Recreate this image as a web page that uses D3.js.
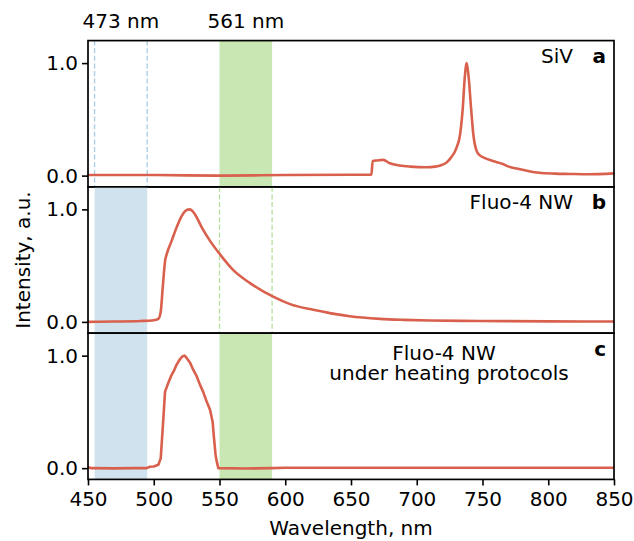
<!DOCTYPE html>
<html>
<head>
<meta charset="utf-8">
<script src="https://cdn.jsdelivr.net/npm/d3@7"></script>
<style>
  body { margin: 0; background: #fff; }
  text { font-family: "DejaVu Sans", sans-serif; }
</style>
</head>
<body>
<div class="canvas"></div>
<script>
// spectra: [wavelength nm, normalised intensity]
const sivSpectrum = [
  [450, 0.005], [500, 0.005], [550, 0.0], [600, 0.005], [665.5, 0.008],
  [666.5, 0.13], [670, 0.135], [674.5, 0.14], [679.5, 0.11], [687, 0.09],
  [695, 0.08], [707, 0.074], [714, 0.08], [719, 0.095], [723, 0.12],
  [726, 0.16], [730, 0.24], [733, 0.37], [735, 0.6], [736.5, 0.87],
  [738, 1.0], [739.5, 0.87], [741.3, 0.6], [743, 0.37], [745.5, 0.22],
  [748, 0.18], [751, 0.16], [758, 0.13], [765, 0.105], [770, 0.08],
  [775, 0.065], [783, 0.045], [793, 0.025], [805, 0.018], [816, 0.015],
  [830, 0.012], [850, 0.02]
];

const fluoSpectrum = [
  [450, 0.0], [470, 0.003], [490, 0.008], [500, 0.015], [503.5, 0.027],
  [505.3, 0.09], [506.8, 0.3], [508.6, 0.54], [509.8, 0.6], [513.6, 0.72],
  [517.4, 0.84], [521.2, 0.94], [524, 0.985], [527, 1.0], [529, 0.99],
  [531.4, 0.955], [536.5, 0.84], [542.8, 0.72], [550.4, 0.6], [560.5, 0.46],
  [573.2, 0.345], [590.4, 0.226], [603.6, 0.158], [621.3, 0.107], [634, 0.078],
  [649, 0.05], [672, 0.027], [690, 0.018], [710, 0.012], [748, 0.008],
  [800, 0.005], [850, 0.003]
];

const heatedSpectrum = [
  [450, 0.01], [452, 0.0], [470, -0.002], [485, 0.0], [494.6, 0.0],
  [497, 0.012], [500, 0.015], [503.5, 0.03], [505.3, 0.087], [506.8, 0.35],
  [508.6, 0.68], [511, 0.756], [513.6, 0.83], [515.5, 0.87], [517.4, 0.92],
  [520, 0.97], [522, 0.995], [523.5, 1.0], [525, 0.98], [527.5, 0.94],
  [530, 0.875], [532.7, 0.815], [535.2, 0.74], [537.5, 0.68], [540.3, 0.59],
  [542.8, 0.52], [544.8, 0.41], [545.8, 0.27], [547, 0.12], [547.9, 0.06],
  [549.1, 0.0], [570, -0.003], [590, 0.0], [600, 0.004], [650, 0.004],
  [700, 0.003], [750, 0.004], [800, 0.003], [850, 0.004]
];

const blueBand = [455, 495];   // 473 nm excitation
const greenBand = [550, 590];  // 561 nm excitation
const bandLabels = [["473 nm", 475], ["561 nm", 570]];
const xTicks = [450, 500, 550, 600, 650, 700, 750, 800, 850];
const yTicks = [0, 1];

const panels = [
  { data: sivSpectrum, blue: "dash", green: "fill", letter: "a", name: ["SiV"], curve: d3.curveMonotoneX },
  { data: fluoSpectrum, blue: "fill", green: "dash", letter: "b", name: ["Fluo-4 NW"], curve: d3.curveMonotoneX },
  { data: heatedSpectrum, blue: "fill", green: "fill", letter: "c", name: ["Fluo-4 NW", "under heating protocols"], curve: d3.curveLinear }
];

const width = 634, height = 541;
const plotLeft = 88, plotRight = 614, plotTop = 40.6, panelH = 146.27;

const svg = d3.select(".canvas").append("svg").attr("width", width).attr("height", height);

const x = d3.scaleLinear().domain([450, 850]).range([plotLeft, plotRight]);

const blueFill = "#cfe2ee", greenFill = "#c8e7b3";
const blueDash = "#a9cde4", greenDash = "#b5e09c";
const lineColor = "#d9604c";

panels.forEach((p, i) => {
  const y0 = plotTop + i * panelH;
  const y = d3.scaleLinear().domain([-0.1, 1.2]).range([y0 + panelH, y0]);
  const g = svg.append("g");

  svg.append("clipPath").attr("id", "clip" + i)
    .append("rect").attr("x", plotLeft).attr("y", y0).attr("width", plotRight - plotLeft).attr("height", panelH);

  // excitation bands
  [[blueBand, p.blue, blueFill, blueDash], [greenBand, p.green, greenFill, greenDash]].forEach(([band, mode, fill, dash]) => {
    if (mode === "fill") {
      g.append("rect")
        .attr("x", x(band[0])).attr("y", y0)
        .attr("width", x(band[1]) - x(band[0])).attr("height", panelH)
        .attr("fill", fill);
    } else {
      band.forEach(b => {
        g.append("line")
          .attr("x1", x(b)).attr("x2", x(b))
          .attr("y1", y0).attr("y2", y0 + panelH)
          .attr("stroke", dash).attr("stroke-width", 1.3)
          .attr("stroke-dasharray", "5,2.6");
      });
    }
  });

  const line = d3.line().x(d => x(d[0])).y(d => y(d[1])).curve(p.curve);
  g.append("path")
    .datum(p.data)
    .attr("clip-path", "url(#clip" + i + ")")
    .attr("fill", "none")
    .attr("stroke", lineColor)
    .attr("stroke-width", 2.6)
    .attr("stroke-linejoin", "round")
    .attr("d", line);

  // y axis
  const ya = g.append("g")
    .attr("transform", `translate(${plotLeft},0)`)
    .call(d3.axisLeft(y).tickValues(yTicks).tickFormat(d3.format(".1f")).tickSize(6).tickPadding(4));
  ya.attr("font-size", 20).attr("font-family", "DejaVu Sans");
  ya.select(".domain").remove();
  ya.selectAll("line").attr("stroke-width", 1.6);
  ya.selectAll("text").attr("fill", "#000");

  // frame
  g.append("rect")
    .attr("x", plotLeft).attr("y", y0)
    .attr("width", plotRight - plotLeft).attr("height", panelH)
    .attr("fill", "none").attr("stroke", "#000").attr("stroke-width", 1.7);

  // panel labels
  if (p.name.length === 1) {
    g.append("text").attr("x", 573).attr("y", y0 + 22.5)
      .attr("text-anchor", "end").attr("font-size", 20).text(p.name[0]);
  } else {
    g.append("text").attr("x", 444).attr("y", y0 + 27)
      .attr("text-anchor", "middle").attr("font-size", 20).text(p.name[0]);
    g.append("text").attr("x", 449).attr("y", y0 + 47)
      .attr("text-anchor", "middle").attr("font-size", 20).text(p.name[1]);
  }
  g.append("text").attr("x", 606).attr("y", y0 + 22.5)
    .attr("text-anchor", "end").attr("font-size", 20).attr("font-weight", "bold")
    .text(p.letter);
});

// x axis on the bottom panel
const xa = svg.append("g")
  .attr("transform", `translate(0,${plotTop + 3 * panelH})`)
  .call(d3.axisBottom(x).tickValues(xTicks).tickFormat(d3.format("d")).tickSize(6).tickPadding(6));
xa.attr("font-size", 20).attr("font-family", "DejaVu Sans");
xa.select(".domain").remove();
xa.selectAll("line").attr("stroke-width", 1.6);
xa.selectAll("text").attr("fill", "#000");

// band labels above
svg.selectAll(".bandlabel").data(bandLabels).enter().append("text")
  .attr("class", "bandlabel")
  .attr("x", d => x(d[1])).attr("y", 28)
  .attr("text-anchor", "middle").attr("font-size", 20)
  .text(d => d[0]);

svg.append("text")
  .attr("x", (plotLeft + plotRight) / 2).attr("y", 535)
  .attr("text-anchor", "middle").attr("font-size", 20)
  .text("Wavelength, nm");

svg.append("text")
  .attr("transform", `translate(30,${plotTop + 1.5 * panelH}) rotate(-90)`)
  .attr("text-anchor", "middle").attr("font-size", 20)
  .text("Intensity, a.u.");
</script>
</body>
</html>
